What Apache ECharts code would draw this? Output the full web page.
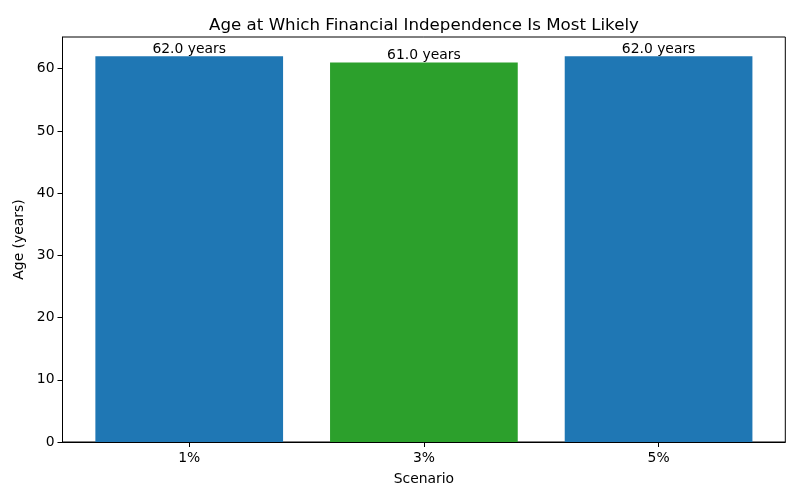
<!DOCTYPE html>
<html><head><meta charset="utf-8">
<script src="https://cdn.jsdelivr.net/npm/echarts@6/dist/echarts.min.js"></script>
<style>html,body{margin:0;padding:0;background:#fff}#c{width:800px;height:500px}</style>
</head><body><div id="c"></div>
<script>
const categories = ['1%', '3%', '5%'];
const ages = [62.0, 61.0, 62.0];
const barColors = ['#1f77b4', '#2ca02c', '#1f77b4'];
const yTicks = [0, 10, 20, 30, 40, 50, 60];

const font = 'DejaVu Sans';
const chart = echarts.init(document.getElementById('c'));
chart.setOption({
  animation: false,
  title: {
    text: 'Age at Which Financial Independence Is Most Likely',
    left: 419, top: 12, textAlign: 'center',
    textStyle: {fontFamily: font, fontSize: 16.67, fontWeight: 'normal', color: '#000'}
  },
  grid: {left: 62.5, right: 14.7, top: 37, bottom: 58, show: true, borderColor: '#000', borderWidth: 1, containLabel: false},
  xAxis: {
    type: 'value', min: -0.54, max: 2.54,
    name: 'Scenario', nameLocation: 'middle', nameGap: 30,
    nameTextStyle: {fontFamily: font, fontSize: 13.9, color: '#000'},
    axisLine: {show: true, onZero: false, lineStyle: {color: '#000', width: 1}},
    axisTick: {show: true, customValues: [0, 1, 2], length: 5, lineStyle: {color: '#000'}},
    axisLabel: {customValues: [0, 1, 2], formatter: v => categories[Math.round(v)], fontFamily: font, fontSize: 13.9, color: '#000', margin: 9},
    splitLine: {show: false}
  },
  yAxis: {
    type: 'value', min: 0, max: 65.1,
    name: 'Age (years)', nameLocation: 'middle', nameGap: 32,
    nameTextStyle: {fontFamily: font, fontSize: 13.9, color: '#000'},
    axisLine: {show: true, onZero: false, lineStyle: {color: '#000', width: 1}},
    axisTick: {show: true, customValues: yTicks, length: 5, lineStyle: {color: '#000'}},
    axisLabel: {customValues: yTicks, fontFamily: font, fontSize: 13.9, color: '#000', margin: 8},
    splitLine: {show: false}
  },
  series: [{
    type: 'bar',
    barWidth: 187.7,
    data: ages.map((v, i) => ({value: [i, v], itemStyle: {color: barColors[i]}})),
    label: {
      show: true, position: 'top', distance: 0,
      formatter: p => p.value[1].toFixed(1) + ' years',
      fontFamily: font, fontSize: 13.9, color: '#000'
    }
  }]
});
</script></body></html>
